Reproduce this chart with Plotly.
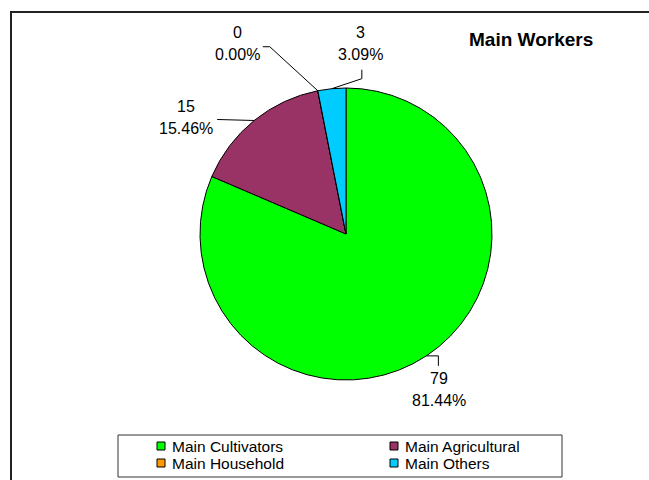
import numpy as np
import plotly.graph_objects as go

# ---- data ----
categories = ["Main Cultivators", "Main Agricultural", "Main Household", "Main Others"]
values = [79, 15, 0, 3]
title_text = "Main Workers"

# ---- style ----
colors = ["#00FF00", "#993366", "#FF9900", "#00CCFF"]
FONT = "Liberation Sans, Arial, sans-serif"
W, H = 649, 480
dom_x = [200 / W, 492 / W]
dom_y = [100 / H, 392 / H]
# leader bend offsets (px, from slice edge point) and text-block centre offsets
leader_offsets = [[(12, 0), (12, 10)], [(-37, -1)], [(-48, -44), (-55, -44)], [(30, -10), (30, -19)]]
text_offsets = [(13, 34), (-68, -3), (-80, -47), (29, -45)]
LINE_GAP = 22  # px between value line and percentage line
# legend layout (px)
LEG_BOX = (118, 435, 562, 477)      # x0, y0, x1, y1 (from top-left)
LEG_FIRST = (157, 446)              # first marker left x, first row centre y
LEG_COL_STEP, LEG_ROW_STEP = 233, 17
LEG_MARK, LEG_TEXT_GAP = 8, 13

fig = go.Figure()
fig.add_trace(go.Pie(
    labels=categories, values=values, sort=False, direction="clockwise", rotation=0,
    marker=dict(colors=colors, line=dict(color="black", width=1)),
    textinfo="none", hoverinfo="label+value+percent",
    domain=dict(x=dom_x, y=dom_y), showlegend=False,
))

# geometry for labels
cx = (dom_x[0] + dom_x[1]) / 2 * W
cy = (1 - (dom_y[0] + dom_y[1]) / 2) * H
R = min((dom_x[1] - dom_x[0]) * W, (dom_y[1] - dom_y[0]) * H) / 2
total = float(sum(values))
cum = np.concatenate([[0], np.cumsum(values)]) / total


def to_paper(px, py):
    return px / W, 1 - py / H


annotations = []
shapes = []
for i, v in enumerate(values):
    mid = (cum[i] + v / total / 2) * 2 * np.pi
    ex, ey = cx + R * np.sin(mid), cy - R * np.cos(mid)
    pts = [(ex, ey)] + [(ex + dx, ey + dy) for dx, dy in leader_offsets[i]]
    path = "M " + " L ".join(f"{to_paper(x, y)[0]:.5f},{to_paper(x, y)[1]:.5f}" for x, y in pts)
    shapes.append(dict(type="path", xref="paper", yref="paper", path=path,
                       line=dict(color="black", width=1)))
    tcx, tcy = ex + text_offsets[i][0], ey + text_offsets[i][1]
    for txt, dy in ((f"{v}", -LINE_GAP / 2), (f"{v / total * 100:.2f}%", LINE_GAP / 2)):
        tx, ty = to_paper(tcx, tcy + dy)
        annotations.append(dict(x=tx, y=ty, xref="paper", yref="paper", showarrow=False,
                                text=txt, font=dict(family=FONT, size=16, color="black"),
                                xanchor="center", yanchor="middle"))

annotations.append(dict(x=531 / W, y=1 - 39 / H, xref="paper", yref="paper", showarrow=False,
                        text=f"<b>{title_text}</b>", font=dict(family=FONT, size=19, color="black"),
                        xanchor="center", yanchor="middle"))

# outer chart frame
shapes.append(dict(type="rect", xref="paper", yref="paper", x0=11 / W, x1=1.2, y0=-0.2, y1=1 - 12 / H,
                   line=dict(color="#222222", width=2), layer="below"))

# legend (two columns, row-major), built from categories / colors
x0, y0 = to_paper(LEG_BOX[0], LEG_BOX[1])
x1, y1 = to_paper(LEG_BOX[2], LEG_BOX[3])
shapes.append(dict(type="rect", xref="paper", yref="paper", x0=x0, x1=x1, y0=y1, y1=y0,
                   line=dict(color="#333333", width=1), fillcolor="white", layer="below"))
for i, (name, col) in enumerate(zip(categories, colors)):
    c, r = i % 2, i // 2
    mx = LEG_FIRST[0] + c * LEG_COL_STEP
    my = LEG_FIRST[1] + r * LEG_ROW_STEP
    ax0, ay0 = to_paper(mx, my - LEG_MARK / 2)
    ax1, ay1 = to_paper(mx + LEG_MARK, my + LEG_MARK / 2)
    shapes.append(dict(type="rect", xref="paper", yref="paper", x0=ax0, x1=ax1, y0=ay1, y1=ay0,
                       line=dict(color="black", width=1), fillcolor=col))
    tx, ty = to_paper(mx + LEG_TEXT_GAP, my)
    annotations.append(dict(x=tx, y=ty, xref="paper", yref="paper", showarrow=False,
                            text=name, font=dict(family=FONT, size=15.5, color="black"),
                            xanchor="left", yanchor="middle"))

fig.update_layout(
    width=W, height=H, margin=dict(l=0, r=0, t=0, b=0, autoexpand=False),
    paper_bgcolor="white", plot_bgcolor="white",
    font=dict(family=FONT, size=15, color="black"),
    showlegend=False,
    annotations=annotations, shapes=shapes,
)

fig.write_html("out.html")
